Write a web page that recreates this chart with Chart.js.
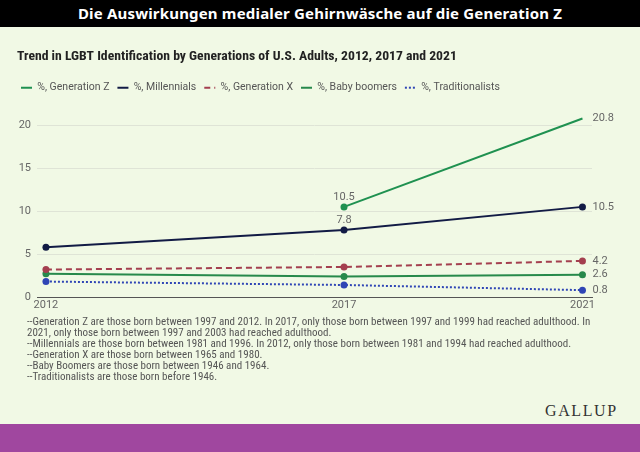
<!DOCTYPE html>
<html>
<head>
<meta charset="utf-8">
<script src="https://cdn.jsdelivr.net/npm/chart.js@4.4.1/dist/chart.umd.min.js"></script>
<style>
  html, body { margin: 0; padding: 0; }
  body { width: 640px; height: 452px; background: #f1f9e5; position: relative; overflow: hidden; }
  #topbar { position: absolute; left: 0; top: 0; width: 640px; height: 27px; background: #000; color: #fff;
            font: bold 15px 'Noto Sans', sans-serif; letter-spacing: 0.18px; text-align: center; line-height: 27px; }
  #wrap { position: absolute; left: 0; top: 27px; width: 640px; height: 290px; }
  #notes { position: absolute; left: 27px; top: 317px; width: 610px; color: #555;
           font: 11px 'Liberation Sans Narrow', 'Roboto Condensed', sans-serif; line-height: 10.9px; white-space: nowrap; }
  #logo { position: absolute; left: 545px; top: 402px; font: 16px 'Liberation Serif', serif; color: #333; letter-spacing: 1.6px; }
  #bottombar { position: absolute; left: 0; top: 424px; width: 640px; height: 28px; background: #a0479f; }
</style>
</head>
<body>
<div id="topbar">Die Auswirkungen medialer Gehirnwäsche auf die Generation Z</div>
<div id="wrap"><canvas id="lgbt" width="640" height="290"></canvas></div>
<div id="notes">
--Generation Z are those born between 1997 and 2012. In 2017, only those born between 1997 and 1999 had reached adulthood. In<br>
2021, only those born between 1997 and 2003 had reached adulthood.<br>
--Millennials are those born between 1981 and 1996. In 2012, only those born between 1981 and 1994 had reached adulthood.<br>
--Generation X are those born between 1965 and 1980.<br>
--Baby Boomers are those born between 1946 and 1964.<br>
--Traditionalists are those born before 1946.
</div>
<div id="logo">GALLUP</div>
<div id="bottombar"></div>

<script>
const years = [2012, 2017, 2021];
const genZ = [null, 10.5, 20.8];
const millennials = [5.8, 7.8, 10.5];
const genX = [3.2, 3.5, 4.2];
const boomers = [2.7, 2.4, 2.6];
const traditionalists = [1.8, 1.4, 0.8];
const seriesNames = ['%, Generation Z', '%, Millennials', '%, Generation X', '%, Baby boomers', '%, Traditionalists'];
const yTicks = [0, 5, 10, 15, 20];

// which series get a label above the 2017 point (the last point always gets one)
const labelAbove = [0, 1];

const toPoints = vals => years.map((yr, i) => ({ x: yr, y: vals[i] }));

function series(name, vals, color, dash) {
  return {
    label: name,
    data: toPoints(vals),
    borderColor: color,
    backgroundColor: color,
    pointBackgroundColor: color,
    pointBorderWidth: 0,
    pointRadius: 3.5,
    borderWidth: 2,
    borderDash: dash || [],
    tension: 0,
    clip: false
  };
}

const valueLabels = {
  id: 'valueLabels',
  afterDatasetsDraw(chart) {
    const ctx = chart.ctx;
    ctx.save();
    ctx.font = '11px Roboto, sans-serif';
    ctx.fillStyle = '#666';
    chart.data.datasets.forEach((ds, di) => {
      const meta = chart.getDatasetMeta(di);
      meta.data.forEach((pt, i) => {
        const v = ds.data[i].y;
        if (v == null) return;
        if (i === years.length - 1) {
          ctx.textAlign = 'left';
          ctx.textBaseline = 'middle';
          ctx.fillText(v.toFixed(1), pt.x + 10, pt.y);
        } else if (i === 1 && labelAbove.includes(di)) {
          ctx.textAlign = 'center';
          ctx.textBaseline = 'bottom';
          ctx.fillText(v.toFixed(1), pt.x, pt.y - 4);
        }
      });
    });
    ctx.restore();
  }
};

new Chart(document.getElementById('lgbt'), {
  type: 'line',
  data: {
    datasets: [
      series(seriesNames[0], genZ, '#1f9150'),
      series(seriesNames[1], millennials, '#121b45'),
      series(seriesNames[2], genX, '#a43f4f', [6, 4]),
      series(seriesNames[3], boomers, '#27894b'),
      series(seriesNames[4], traditionalists, '#2f45b5', [2, 2])
    ]
  },
  options: {
    responsive: false,
    animation: false,
    layout: { padding: { left: 17, right: 48, top: 0, bottom: 0 } },
    plugins: {
      title: {
        display: true,
        text: 'Trend in LGBT Identification by Generations of U.S. Adults, 2012, 2017 and 2021',
        align: 'start',
        color: '#222',
        font: { family: "'Liberation Sans Narrow', 'Roboto Condensed', Roboto, sans-serif", size: 13.7, weight: 'bold' },
        padding: { top: 21, bottom: 10 }
      },
      subtitle: {
        display: true,
        text: '',
        weight: 500,
        font: { size: 2 },
        padding: { top: 0, bottom: 20 }
      },
      legend: {
        align: 'start',
        labels: {
          usePointStyle: true,
          pointStyle: 'line',
          pointStyleWidth: 11,
          padding: 8,
          color: '#555',
          font: { family: 'Roboto, sans-serif', size: 10.5 },
          // point style would take the point's border; use the line's instead
          generateLabels(chart) {
            const items = Chart.defaults.plugins.legend.labels.generateLabels(chart);
            items.forEach(item => {
              const ds = chart.data.datasets[item.datasetIndex];
              item.lineWidth = ds.borderWidth;
              item.lineDash = ds.borderDash;
              item.strokeStyle = ds.borderColor;
              item.pointStyle = 'line';
            });
            return items;
          }
        }
      },
      tooltip: { enabled: false }
    },
    scales: {
      x: {
        type: 'linear',
        min: 2011.85,
        max: 2021.16,
        afterBuildTicks: s => { s.ticks = years.map(v => ({ value: v })); },
        afterFit: s => { s.height = 20; },
        grid: { display: false, drawTicks: false },
        border: { display: true, color: '#555', width: 1 },
        ticks: { color: '#666', font: { family: 'Roboto, sans-serif', size: 11 }, padding: 2, callback: v => String(v) }
      },
      y: {
        min: 0,
        max: 20,
        afterBuildTicks: s => { s.ticks = yTicks.map(v => ({ value: v })); },
        afterFit: s => { s.width = 20; },
        grid: { color: '#dfe4d6', drawTicks: false },
        border: { display: false },
        ticks: { color: '#666', font: { family: 'Roboto, sans-serif', size: 11 }, padding: 6 }
      }
    }
  },
  plugins: [valueLabels, {
    id: 'legendShift',
    afterLayout(chart) { chart.legend.left -= 4; }
  }]
});
</script>
</body>
</html>
